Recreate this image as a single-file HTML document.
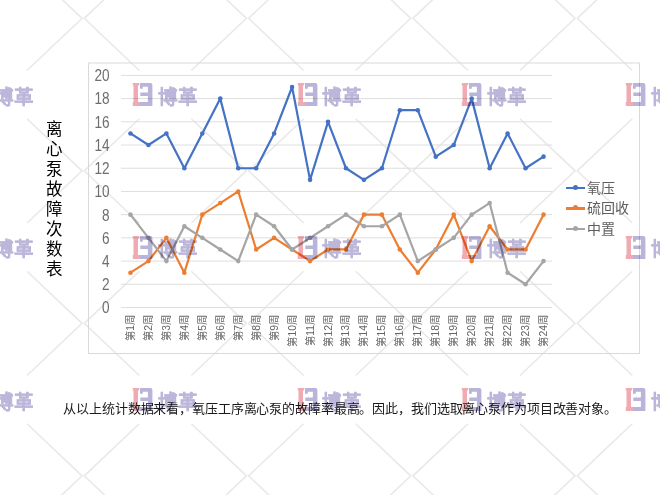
<!DOCTYPE html>
<html lang="zh-CN"><head><meta charset="utf-8">
<style>
html,body{margin:0;padding:0;background:#fff;}
body{width:660px;height:495px;position:relative;overflow:hidden;font-family:"Liberation Sans",sans-serif;}
svg.abs{position:absolute;left:0;top:0;}
.yl{position:absolute;left:70px;width:39.5px;text-align:right;font-size:15.8px;line-height:16px;color:#6e6e6e;transform:scaleX(0.86);transform-origin:100% 50%;}
.xl{position:absolute;top:309px;width:60px;height:12px;font-size:10.4px;line-height:12px;color:#666;transform-origin:100% 50%;transform:rotate(-90deg);text-align:right;white-space:nowrap;}
.ytitle{position:absolute;left:44px;top:118.5px;width:20px;font-size:16.5px;line-height:20px;color:#000;text-align:center;}
.legend{position:absolute;left:566px;font-size:14px;color:#5e5e5e;}
.legend div{position:absolute;left:0;white-space:nowrap;height:20px;line-height:20px;}
.legend i{position:absolute;left:0;top:9px;width:19px;height:2.2px;}
.legend b{position:absolute;left:7px;top:7px;width:5px;height:5px;border-radius:50%;}
.legend span{position:absolute;left:21px;top:0;}
.para{position:absolute;left:63.3px;top:400px;font-size:13px;letter-spacing:-0.125px;line-height:18px;color:#1a1a1a;white-space:nowrap;}
.wm{position:absolute;left:0;top:0;width:660px;height:495px;}
.logo{position:absolute;width:70px;height:24px;mix-blend-mode:multiply;}
.logo svg{position:absolute;left:0;top:0;}
.logo span{position:absolute;left:25.5px;top:1.5px;font-size:19.5px;line-height:24px;font-weight:900;-webkit-text-stroke:0.2px #bcb7da;color:#bcb7da;letter-spacing:0px;white-space:nowrap;}
</style></head><body>
<svg class="abs" width="660" height="495"><g stroke="#e9e9e9" stroke-width="1.6" fill="none"><polyline points="27.00,-33.77 82.07,18.35 27.00,70.47"/><polyline points="139.33,-33.77 84.27,18.35 139.33,70.47"/><polyline points="27.00,118.73 82.07,170.85 27.00,222.97"/><polyline points="139.33,118.73 84.27,170.85 139.33,222.97"/><polyline points="27.00,271.23 82.07,323.35 27.00,375.47"/><polyline points="139.33,271.23 84.27,323.35 139.33,375.47"/><polyline points="27.00,423.73 82.07,475.85 27.00,527.97"/><polyline points="139.33,423.73 84.27,475.85 139.33,527.97"/><polyline points="191.33,-33.77 246.40,18.35 191.33,70.47"/><polyline points="303.66,-33.77 248.59,18.35 303.66,70.47"/><polyline points="191.33,118.73 246.40,170.85 191.33,222.97"/><polyline points="303.66,118.73 248.59,170.85 303.66,222.97"/><polyline points="191.33,271.23 246.40,323.35 191.33,375.47"/><polyline points="303.66,271.23 248.59,323.35 303.66,375.47"/><polyline points="191.33,423.73 246.40,475.85 191.33,527.97"/><polyline points="303.66,423.73 248.59,475.85 303.66,527.97"/><polyline points="355.66,-33.77 410.73,18.35 355.66,70.47"/><polyline points="467.99,-33.77 412.93,18.35 467.99,70.47"/><polyline points="355.66,118.73 410.73,170.85 355.66,222.97"/><polyline points="467.99,118.73 412.93,170.85 467.99,222.97"/><polyline points="355.66,271.23 410.73,323.35 355.66,375.47"/><polyline points="467.99,271.23 412.93,323.35 467.99,375.47"/><polyline points="355.66,423.73 410.73,475.85 355.66,527.97"/><polyline points="467.99,423.73 412.93,475.85 467.99,527.97"/><polyline points="519.99,-33.77 575.05,18.35 519.99,70.47"/><polyline points="632.32,-33.77 577.25,18.35 632.32,70.47"/><polyline points="519.99,118.73 575.05,170.85 519.99,222.97"/><polyline points="632.32,118.73 577.25,170.85 632.32,222.97"/><polyline points="519.99,271.23 575.05,323.35 519.99,375.47"/><polyline points="632.32,271.23 577.25,323.35 632.32,375.47"/><polyline points="519.99,423.73 575.05,475.85 519.99,527.97"/><polyline points="632.32,423.73 577.25,475.85 632.32,527.97"/></g></svg>
<svg class="abs" width="660" height="495">
<rect x="88.5" y="63" width="551" height="290.5" fill="none" stroke="#d9d9d9" stroke-width="1"/>
<g stroke="#dedede" stroke-width="1"><line x1="121.0" y1="307.50" x2="552.0" y2="307.50"/><line x1="121.0" y1="284.29" x2="552.0" y2="284.29"/><line x1="121.0" y1="261.08" x2="552.0" y2="261.08"/><line x1="121.0" y1="237.87" x2="552.0" y2="237.87"/><line x1="121.0" y1="214.66" x2="552.0" y2="214.66"/><line x1="121.0" y1="191.45" x2="552.0" y2="191.45"/><line x1="121.0" y1="168.24" x2="552.0" y2="168.24"/><line x1="121.0" y1="145.03" x2="552.0" y2="145.03"/><line x1="121.0" y1="121.82" x2="552.0" y2="121.82"/><line x1="121.0" y1="98.61" x2="552.0" y2="98.61"/><line x1="121.0" y1="75.40" x2="552.0" y2="75.40"/></g>
<polyline points="130.48,133.43 148.44,145.03 166.40,133.43 184.35,168.24 202.31,133.43 220.27,98.61 238.23,168.24 256.19,168.24 274.15,133.43 292.10,87.01 310.06,179.84 328.02,121.82 345.98,168.24 363.94,179.84 381.90,168.24 399.85,110.22 417.81,110.22 435.77,156.64 453.73,145.03 471.69,98.61 489.65,168.24 507.60,133.43 525.56,168.24 543.52,156.64" fill="none" stroke="#4472c4" stroke-width="2.2" stroke-linejoin="round" stroke-linecap="round"/><circle cx="130.48" cy="133.43" r="2.3" fill="#4472c4"/><circle cx="148.44" cy="145.03" r="2.3" fill="#4472c4"/><circle cx="166.40" cy="133.43" r="2.3" fill="#4472c4"/><circle cx="184.35" cy="168.24" r="2.3" fill="#4472c4"/><circle cx="202.31" cy="133.43" r="2.3" fill="#4472c4"/><circle cx="220.27" cy="98.61" r="2.3" fill="#4472c4"/><circle cx="238.23" cy="168.24" r="2.3" fill="#4472c4"/><circle cx="256.19" cy="168.24" r="2.3" fill="#4472c4"/><circle cx="274.15" cy="133.43" r="2.3" fill="#4472c4"/><circle cx="292.10" cy="87.01" r="2.3" fill="#4472c4"/><circle cx="310.06" cy="179.84" r="2.3" fill="#4472c4"/><circle cx="328.02" cy="121.82" r="2.3" fill="#4472c4"/><circle cx="345.98" cy="168.24" r="2.3" fill="#4472c4"/><circle cx="363.94" cy="179.84" r="2.3" fill="#4472c4"/><circle cx="381.90" cy="168.24" r="2.3" fill="#4472c4"/><circle cx="399.85" cy="110.22" r="2.3" fill="#4472c4"/><circle cx="417.81" cy="110.22" r="2.3" fill="#4472c4"/><circle cx="435.77" cy="156.64" r="2.3" fill="#4472c4"/><circle cx="453.73" cy="145.03" r="2.3" fill="#4472c4"/><circle cx="471.69" cy="98.61" r="2.3" fill="#4472c4"/><circle cx="489.65" cy="168.24" r="2.3" fill="#4472c4"/><circle cx="507.60" cy="133.43" r="2.3" fill="#4472c4"/><circle cx="525.56" cy="168.24" r="2.3" fill="#4472c4"/><circle cx="543.52" cy="156.64" r="2.3" fill="#4472c4"/>
<polyline points="130.48,272.69 148.44,261.08 166.40,237.87 184.35,272.69 202.31,214.66 220.27,203.06 238.23,191.45 256.19,249.47 274.15,237.87 292.10,249.47 310.06,261.08 328.02,249.47 345.98,249.47 363.94,214.66 381.90,214.66 399.85,249.47 417.81,272.69 435.77,249.47 453.73,214.66 471.69,261.08 489.65,226.26 507.60,249.47 525.56,249.47 543.52,214.66" fill="none" stroke="#ed7d31" stroke-width="2.2" stroke-linejoin="round" stroke-linecap="round"/><circle cx="130.48" cy="272.69" r="2.3" fill="#ed7d31"/><circle cx="148.44" cy="261.08" r="2.3" fill="#ed7d31"/><circle cx="166.40" cy="237.87" r="2.3" fill="#ed7d31"/><circle cx="184.35" cy="272.69" r="2.3" fill="#ed7d31"/><circle cx="202.31" cy="214.66" r="2.3" fill="#ed7d31"/><circle cx="220.27" cy="203.06" r="2.3" fill="#ed7d31"/><circle cx="238.23" cy="191.45" r="2.3" fill="#ed7d31"/><circle cx="256.19" cy="249.47" r="2.3" fill="#ed7d31"/><circle cx="274.15" cy="237.87" r="2.3" fill="#ed7d31"/><circle cx="292.10" cy="249.47" r="2.3" fill="#ed7d31"/><circle cx="310.06" cy="261.08" r="2.3" fill="#ed7d31"/><circle cx="328.02" cy="249.47" r="2.3" fill="#ed7d31"/><circle cx="345.98" cy="249.47" r="2.3" fill="#ed7d31"/><circle cx="363.94" cy="214.66" r="2.3" fill="#ed7d31"/><circle cx="381.90" cy="214.66" r="2.3" fill="#ed7d31"/><circle cx="399.85" cy="249.47" r="2.3" fill="#ed7d31"/><circle cx="417.81" cy="272.69" r="2.3" fill="#ed7d31"/><circle cx="435.77" cy="249.47" r="2.3" fill="#ed7d31"/><circle cx="453.73" cy="214.66" r="2.3" fill="#ed7d31"/><circle cx="471.69" cy="261.08" r="2.3" fill="#ed7d31"/><circle cx="489.65" cy="226.26" r="2.3" fill="#ed7d31"/><circle cx="507.60" cy="249.47" r="2.3" fill="#ed7d31"/><circle cx="525.56" cy="249.47" r="2.3" fill="#ed7d31"/><circle cx="543.52" cy="214.66" r="2.3" fill="#ed7d31"/>
<polyline points="130.48,214.66 148.44,237.87 166.40,261.08 184.35,226.26 202.31,237.87 220.27,249.47 238.23,261.08 256.19,214.66 274.15,226.26 292.10,249.47 310.06,237.87 328.02,226.26 345.98,214.66 363.94,226.26 381.90,226.26 399.85,214.66 417.81,261.08 435.77,249.47 453.73,237.87 471.69,214.66 489.65,203.06 507.60,272.69 525.56,284.29 543.52,261.08" fill="none" stroke="#a5a5a5" stroke-width="2.2" stroke-linejoin="round" stroke-linecap="round"/><circle cx="130.48" cy="214.66" r="2.3" fill="#a5a5a5"/><circle cx="148.44" cy="237.87" r="2.3" fill="#a5a5a5"/><circle cx="166.40" cy="261.08" r="2.3" fill="#a5a5a5"/><circle cx="184.35" cy="226.26" r="2.3" fill="#a5a5a5"/><circle cx="202.31" cy="237.87" r="2.3" fill="#a5a5a5"/><circle cx="220.27" cy="249.47" r="2.3" fill="#a5a5a5"/><circle cx="238.23" cy="261.08" r="2.3" fill="#a5a5a5"/><circle cx="256.19" cy="214.66" r="2.3" fill="#a5a5a5"/><circle cx="274.15" cy="226.26" r="2.3" fill="#a5a5a5"/><circle cx="292.10" cy="249.47" r="2.3" fill="#a5a5a5"/><circle cx="310.06" cy="237.87" r="2.3" fill="#a5a5a5"/><circle cx="328.02" cy="226.26" r="2.3" fill="#a5a5a5"/><circle cx="345.98" cy="214.66" r="2.3" fill="#a5a5a5"/><circle cx="363.94" cy="226.26" r="2.3" fill="#a5a5a5"/><circle cx="381.90" cy="226.26" r="2.3" fill="#a5a5a5"/><circle cx="399.85" cy="214.66" r="2.3" fill="#a5a5a5"/><circle cx="417.81" cy="261.08" r="2.3" fill="#a5a5a5"/><circle cx="435.77" cy="249.47" r="2.3" fill="#a5a5a5"/><circle cx="453.73" cy="237.87" r="2.3" fill="#a5a5a5"/><circle cx="471.69" cy="214.66" r="2.3" fill="#a5a5a5"/><circle cx="489.65" cy="203.06" r="2.3" fill="#a5a5a5"/><circle cx="507.60" cy="272.69" r="2.3" fill="#a5a5a5"/><circle cx="525.56" cy="284.29" r="2.3" fill="#a5a5a5"/><circle cx="543.52" cy="261.08" r="2.3" fill="#a5a5a5"/>
</svg>
<div class="yl" style="top:300.3px">0</div><div class="yl" style="top:277.1px">2</div><div class="yl" style="top:253.9px">4</div><div class="yl" style="top:230.7px">6</div><div class="yl" style="top:207.5px">8</div><div class="yl" style="top:184.2px">10</div><div class="yl" style="top:161.0px">12</div><div class="yl" style="top:137.8px">14</div><div class="yl" style="top:114.6px">16</div><div class="yl" style="top:91.4px">18</div><div class="yl" style="top:68.2px">20</div>
<div class="xl" style="left:70.98px">第1周</div><div class="xl" style="left:88.94px">第2周</div><div class="xl" style="left:106.90px">第3周</div><div class="xl" style="left:124.85px">第4周</div><div class="xl" style="left:142.81px">第5周</div><div class="xl" style="left:160.77px">第6周</div><div class="xl" style="left:178.73px">第7周</div><div class="xl" style="left:196.69px">第8周</div><div class="xl" style="left:214.65px">第9周</div><div class="xl" style="left:232.60px">第10周</div><div class="xl" style="left:250.56px">第11周</div><div class="xl" style="left:268.52px">第12周</div><div class="xl" style="left:286.48px">第13周</div><div class="xl" style="left:304.44px">第14周</div><div class="xl" style="left:322.40px">第15周</div><div class="xl" style="left:340.35px">第16周</div><div class="xl" style="left:358.31px">第17周</div><div class="xl" style="left:376.27px">第18周</div><div class="xl" style="left:394.23px">第19周</div><div class="xl" style="left:412.19px">第20周</div><div class="xl" style="left:430.15px">第21周</div><div class="xl" style="left:448.10px">第22周</div><div class="xl" style="left:466.06px">第23周</div><div class="xl" style="left:484.02px">第24周</div>
<div class="ytitle">离心泵故障次数表</div>
<div class="legend" style="top:0">
<div style="top:177.7px"><i style="background:#4472c4"></i><b style="background:#4472c4"></b><span>氧压</span></div>
<div style="top:198.4px"><i style="background:#ed7d31"></i><b style="background:#ed7d31"></b><span>硫回收</span></div>
<div style="top:219.1px"><i style="background:#a5a5a5"></i><b style="background:#a5a5a5"></b><span>中置</span></div>
</div>
<div class="para">从以上统计数据来看，氧压工序离心泵的故障率最高。因此，我们选取离心泵作为项目改善对象。</div>
<div class="wm"><div class="logo" style="left:-32.0px;top:83.1px"><svg width="22" height="24" viewBox="0 0 22 24"><path d="M0.8 0H7.2V2.4H6V19H8V23H0.8V19H1.5V2.4H0.8Z" fill="#f0aab2"/><path d="M8 0H18.4Q20.4 0 20.4 2V23H8V19H15.9V13.1H8.3V9.6H15.9V3.8H10.8V5.8H8Z" fill="#b9b4d9"/></svg><span>博革</span></div><div class="logo" style="left:-32.0px;top:235.6px"><svg width="22" height="24" viewBox="0 0 22 24"><path d="M0.8 0H7.2V2.4H6V19H8V23H0.8V19H1.5V2.4H0.8Z" fill="#f0aab2"/><path d="M8 0H18.4Q20.4 0 20.4 2V23H8V19H15.9V13.1H8.3V9.6H15.9V3.8H10.8V5.8H8Z" fill="#b9b4d9"/></svg><span>博革</span></div><div class="logo" style="left:-32.0px;top:388.1px"><svg width="22" height="24" viewBox="0 0 22 24"><path d="M0.8 0H7.2V2.4H6V19H8V23H0.8V19H1.5V2.4H0.8Z" fill="#f0aab2"/><path d="M8 0H18.4Q20.4 0 20.4 2V23H8V19H15.9V13.1H8.3V9.6H15.9V3.8H10.8V5.8H8Z" fill="#b9b4d9"/></svg><span>博革</span></div><div class="logo" style="left:132.3px;top:83.1px"><svg width="22" height="24" viewBox="0 0 22 24"><path d="M0.8 0H7.2V2.4H6V19H8V23H0.8V19H1.5V2.4H0.8Z" fill="#f0aab2"/><path d="M8 0H18.4Q20.4 0 20.4 2V23H8V19H15.9V13.1H8.3V9.6H15.9V3.8H10.8V5.8H8Z" fill="#b9b4d9"/></svg><span>博革</span></div><div class="logo" style="left:132.3px;top:235.6px"><svg width="22" height="24" viewBox="0 0 22 24"><path d="M0.8 0H7.2V2.4H6V19H8V23H0.8V19H1.5V2.4H0.8Z" fill="#f0aab2"/><path d="M8 0H18.4Q20.4 0 20.4 2V23H8V19H15.9V13.1H8.3V9.6H15.9V3.8H10.8V5.8H8Z" fill="#b9b4d9"/></svg><span>博革</span></div><div class="logo" style="left:132.3px;top:388.1px"><svg width="22" height="24" viewBox="0 0 22 24"><path d="M0.8 0H7.2V2.4H6V19H8V23H0.8V19H1.5V2.4H0.8Z" fill="#f0aab2"/><path d="M8 0H18.4Q20.4 0 20.4 2V23H8V19H15.9V13.1H8.3V9.6H15.9V3.8H10.8V5.8H8Z" fill="#b9b4d9"/></svg><span>博革</span></div><div class="logo" style="left:296.7px;top:83.1px"><svg width="22" height="24" viewBox="0 0 22 24"><path d="M0.8 0H7.2V2.4H6V19H8V23H0.8V19H1.5V2.4H0.8Z" fill="#f0aab2"/><path d="M8 0H18.4Q20.4 0 20.4 2V23H8V19H15.9V13.1H8.3V9.6H15.9V3.8H10.8V5.8H8Z" fill="#b9b4d9"/></svg><span>博革</span></div><div class="logo" style="left:296.7px;top:235.6px"><svg width="22" height="24" viewBox="0 0 22 24"><path d="M0.8 0H7.2V2.4H6V19H8V23H0.8V19H1.5V2.4H0.8Z" fill="#f0aab2"/><path d="M8 0H18.4Q20.4 0 20.4 2V23H8V19H15.9V13.1H8.3V9.6H15.9V3.8H10.8V5.8H8Z" fill="#b9b4d9"/></svg><span>博革</span></div><div class="logo" style="left:296.7px;top:388.1px"><svg width="22" height="24" viewBox="0 0 22 24"><path d="M0.8 0H7.2V2.4H6V19H8V23H0.8V19H1.5V2.4H0.8Z" fill="#f0aab2"/><path d="M8 0H18.4Q20.4 0 20.4 2V23H8V19H15.9V13.1H8.3V9.6H15.9V3.8H10.8V5.8H8Z" fill="#b9b4d9"/></svg><span>博革</span></div><div class="logo" style="left:461.0px;top:83.1px"><svg width="22" height="24" viewBox="0 0 22 24"><path d="M0.8 0H7.2V2.4H6V19H8V23H0.8V19H1.5V2.4H0.8Z" fill="#f0aab2"/><path d="M8 0H18.4Q20.4 0 20.4 2V23H8V19H15.9V13.1H8.3V9.6H15.9V3.8H10.8V5.8H8Z" fill="#b9b4d9"/></svg><span>博革</span></div><div class="logo" style="left:461.0px;top:235.6px"><svg width="22" height="24" viewBox="0 0 22 24"><path d="M0.8 0H7.2V2.4H6V19H8V23H0.8V19H1.5V2.4H0.8Z" fill="#f0aab2"/><path d="M8 0H18.4Q20.4 0 20.4 2V23H8V19H15.9V13.1H8.3V9.6H15.9V3.8H10.8V5.8H8Z" fill="#b9b4d9"/></svg><span>博革</span></div><div class="logo" style="left:461.0px;top:388.1px"><svg width="22" height="24" viewBox="0 0 22 24"><path d="M0.8 0H7.2V2.4H6V19H8V23H0.8V19H1.5V2.4H0.8Z" fill="#f0aab2"/><path d="M8 0H18.4Q20.4 0 20.4 2V23H8V19H15.9V13.1H8.3V9.6H15.9V3.8H10.8V5.8H8Z" fill="#b9b4d9"/></svg><span>博革</span></div><div class="logo" style="left:625.3px;top:83.1px"><svg width="22" height="24" viewBox="0 0 22 24"><path d="M0.8 0H7.2V2.4H6V19H8V23H0.8V19H1.5V2.4H0.8Z" fill="#f0aab2"/><path d="M8 0H18.4Q20.4 0 20.4 2V23H8V19H15.9V13.1H8.3V9.6H15.9V3.8H10.8V5.8H8Z" fill="#b9b4d9"/></svg><span>博革</span></div><div class="logo" style="left:625.3px;top:235.6px"><svg width="22" height="24" viewBox="0 0 22 24"><path d="M0.8 0H7.2V2.4H6V19H8V23H0.8V19H1.5V2.4H0.8Z" fill="#f0aab2"/><path d="M8 0H18.4Q20.4 0 20.4 2V23H8V19H15.9V13.1H8.3V9.6H15.9V3.8H10.8V5.8H8Z" fill="#b9b4d9"/></svg><span>博革</span></div><div class="logo" style="left:625.3px;top:388.1px"><svg width="22" height="24" viewBox="0 0 22 24"><path d="M0.8 0H7.2V2.4H6V19H8V23H0.8V19H1.5V2.4H0.8Z" fill="#f0aab2"/><path d="M8 0H18.4Q20.4 0 20.4 2V23H8V19H15.9V13.1H8.3V9.6H15.9V3.8H10.8V5.8H8Z" fill="#b9b4d9"/></svg><span>博革</span></div></div>
</body></html>
